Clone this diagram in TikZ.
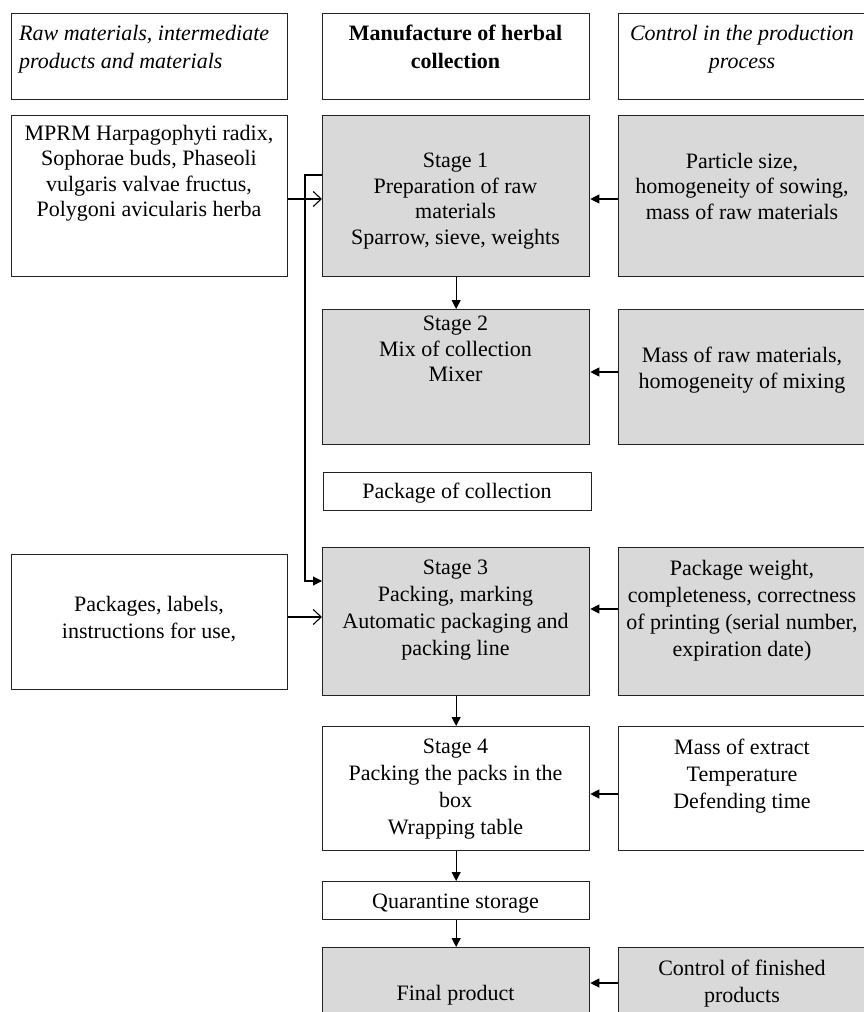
\documentclass[tikz,border=0pt]{standalone}
\usepackage{fontspec}
\setmainfont{Liberation Serif}
\usetikzlibrary{arrows.meta}
\definecolor{boxgray}{RGB}{217,217,217}
\definecolor{edgecol}{RGB}{35,35,35}
\newcommand{\boxnode}[6]{\node[#1, minimum width={#4pt-#2pt}, minimum height={#5pt-#3pt}] (#6) at (#2,#3) {};}
\begin{document}
\begin{tikzpicture}[x=1pt,y=-1pt,
  bx/.style={draw=edgecol, line width=1.3pt, rectangle, inner sep=0pt, anchor=north west, fill=white},
  gbx/.style={bx, fill=boxgray},
  txt/.style={align=center, inner sep=0pt, anchor=north, font=\fontsize{22}{27}\selectfont},
  txtb/.style={txt, font=\fontsize{22}{25.5}\selectfont},
  htxt/.style={txt, font=\fontsize{22}{28}\selectfont},
  conn/.style={draw=black, line width=1.1pt},
  farrow/.style={conn, -{Triangle[length=9pt,width=9pt]}},
  oarrow/.style={conn, -{Straight Barb[length=8pt,width=15pt,line width=1.1pt]}}
]
\useasboundingbox (0,0) rectangle (864,1012);
\clip (0,0) rectangle (864,1012);
\fill[white] (0,0) rectangle (864,1012);

% headers
\boxnode{bx}{11}{13}{287}{99}{h1}
\boxnode{bx}{322}{13}{589}{99}{h2}
\boxnode{bx}{618}{13}{866}{99}{h3}
\node[htxt, align=left, anchor=north west, font=\fontsize{22}{28}\selectfont\itshape] (th1) at (19,25) {Raw materials, intermediate\\products and materials};
\node[htxt, font=\fontsize{22}{28}\selectfont\bfseries] (th2) at (455.5,25) {Manufacture of herbal\\collection};
\node[htxt, font=\fontsize{22}{28}\selectfont\itshape] (th3) at (742,25) {Control in the production\\process};

% row 1
\boxnode{bx}{11}{115}{287}{276}{l1}
\boxnode{gbx}{322}{115}{589}{276}{s1}
\boxnode{gbx}{618}{115}{866}{276}{r1}
\node[txtb] (tl1) at (149,125) {MPRM Harpagophyti radix,\\Sophorae buds, Phaseoli\\vulgaris valvae fructus,\\Polygoni avicularis herba};
\node[txtb] (ts1) at (455.5,153) {Stage 1\\Preparation of raw\\materials\\Sparrow, sieve, weights};
\node[txtb] (tr1) at (742,153) {Particle size,\\homogeneity of sowing,\\mass of raw materials};

% row 2
\boxnode{gbx}{322}{309}{589}{444}{s2}
\boxnode{gbx}{618}{309}{866}{444}{r2}
\node[txtb] (ts2) at (455.5,316) {Stage 2\\Mix of collection\\Mixer};
\node[txtb] (tr2) at (742,347) {Mass of raw materials,\\homogeneity of mixing};

% package
\boxnode{bx}{323}{472}{591}{510}{pk}
\node[txt] (tpk) at (457,483) {Package of collection};

% row 3
\boxnode{bx}{11}{554}{287}{689}{l3}
\boxnode{gbx}{322}{547}{589}{695}{s3}
\boxnode{gbx}{618}{547}{866}{695}{r3}
\node[txt] (tl3) at (149,596) {Packages, labels,\\instructions for use,};
\node[txt] (ts3) at (455.5,560) {Stage 3\\Packing, marking\\Automatic packaging and\\packing line};
\node[txt] (tr3) at (742,560) {Package weight,\\completeness, correctness\\of printing (serial number,\\expiration date)};

% row 4
\boxnode{bx}{322}{726}{589}{850}{s4}
\boxnode{bx}{618}{726}{866}{850}{r4}
\node[txt] (ts4) at (455.5,739) {Stage 4\\Packing the packs in the\\box\\Wrapping table};
\node[txt] (tr4) at (742,739) {Mass of extract\\Temperature\\Defending time};

% quarantine
\boxnode{bx}{322}{881}{589}{919}{qs}
\node[txt] (tqs) at (455.5,894) {Quarantine storage};

% final
\boxnode{gbx}{322}{947}{589}{1060}{fp}
\boxnode{gbx}{618}{947}{866}{1060}{rf}
\node[txt] (tfp) at (455.5,985) {Final product};
\node[txt] (trf) at (742,960) {Control of finished\\products};

% helper coordinates
\coordinate (y1in) at (0,199);
\coordinate (y1out) at (0,175);
\coordinate (jx) at (305,0);
\coordinate (y3in) at (0,581);
\coordinate (y3open) at (0,617);
\coordinate (y2r) at (0,372);
\coordinate (y3r) at (0,609);
\coordinate (y4r) at (0,794);
\coordinate (yfr) at (0,983);

% connectors
\draw[oarrow] (l1.east |- y1in) -- (s1.west |- y1in);
\draw[farrow] (r1.west |- y1in) -- (s1.east |- y1in);
\draw[farrow] (s1.south) -- (s2.north);
\draw[farrow] (r2.west |- y2r) -- (s2.east |- y2r);
\draw[farrow] (s1.west |- y1out) -- (jx |- y1out) -- (jx |- y3in) -- (s3.west |- y3in);
\draw[oarrow] (l3.east |- y3open) -- (s3.west |- y3open);
\draw[farrow] (r3.west |- y3r) -- (s3.east |- y3r);
\draw[farrow] (s3.south) -- (s4.north);
\draw[farrow] (r4.west |- y4r) -- (s4.east |- y4r);
\draw[farrow] (s4.south) -- (qs.north -| s4.south);
\draw[farrow] (qs.south -| s4.south) -- (fp.north);
\draw[farrow] (rf.west |- yfr) -- (fp.east |- yfr);
\end{tikzpicture}
\end{document}
